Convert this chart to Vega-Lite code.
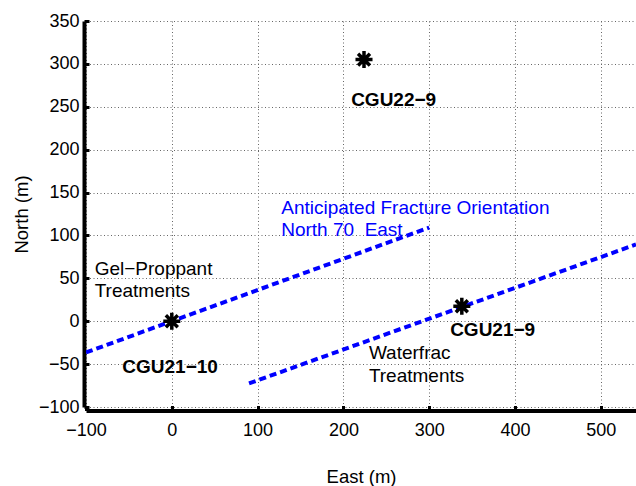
{
  "$schema": "https://vega.github.io/schema/vega-lite/v6.json",
  "width": 550,
  "height": 386,
  "autosize": {"type": "none"},
  "padding": {"left": 86, "top": 21, "right": 0, "bottom": 79},
  "background": "white",
  "config": {
    "view": {"stroke": null},
    "font": "Liberation Sans"
  },
  "datasets": {
    "fractures": [
      {"trend": "gel", "east": -100, "north": -36.4},
      {"trend": "gel", "east": 300, "north": 109.2},
      {"trend": "water", "east": 90, "north": -72.5},
      {"trend": "water", "east": 541, "north": 89.5}
    ],
    "wells": [
      {"well": "CGU21-10", "east": 0, "north": 0},
      {"well": "CGU22-9", "east": 224, "north": 305},
      {"well": "CGU21-9", "east": 338, "north": 17.5}
    ],
    "notes": [
      {"kind": "well", "text": "CGU22−9", "east": 209, "north": 258.4},
      {"kind": "well", "text": "CGU21−10", "east": -57.7, "north": -53.6},
      {"kind": "well", "text": "CGU21−9", "east": 324.4, "north": -10.5},
      {"kind": "zone", "text": "Gel−Proppant", "east": -89.9, "north": 61.1},
      {"kind": "zone", "text": "Treatments", "east": -89.9, "north": 35},
      {"kind": "zone", "text": "Waterfrac", "east": 229.7, "north": -36.8},
      {"kind": "zone", "text": "Treatments", "east": 229.7, "north": -63.3},
      {"kind": "trend", "text": "Anticipated Fracture Orientation", "east": 127.5, "north": 132.5},
      {"kind": "trend", "text": "North 70\u00a0 East", "east": 127.5, "north": 106.9}
    ]
  },
  "encoding": {
    "x": {
      "field": "east",
      "type": "quantitative",
      "scale": {"domain": [-100, 541], "nice": false, "zero": false},
      "axis": {
        "title": "East (m)",
        "values": [-100, 0, 100, 200, 300, 400, 500],
        "grid": true,
        "gridDash": [1, 2.5],
        "gridColor": "#666666",
        "gridWidth": 1,
        "gridOpacity": 1,
        "domainColor": "black",
        "domainWidth": 4,
        "offset": 3.5,
        "tickColor": "black",
        "tickWidth": 3,
        "tickSize": -5,
        "labelPadding": 16,
        "labelFontSize": 18,
        "labelColor": "black",
        "labelFlush": false,
        "labelOverlap": false,
        "titleFontSize": 18.5,
        "titleFontWeight": "normal",
        "titleColor": "black",
        "titleX": 275,
        "titleY": 66,
        "titleAlign": "center",
        "titleBaseline": "middle"
      }
    },
    "y": {
      "field": "north",
      "type": "quantitative",
      "scale": {"domain": [-100, 350], "nice": false, "zero": false},
      "axis": {
        "title": "North (m)",
        "values": [-100, -50, 0, 50, 100, 150, 200, 250, 300, 350],
        "grid": true,
        "gridDash": [1, 2.5],
        "gridColor": "#666666",
        "gridWidth": 1,
        "gridOpacity": 1,
        "domainColor": "black",
        "domainWidth": 4,
        "offset": 2,
        "tickColor": "black",
        "tickWidth": 3,
        "tickSize": -5,
        "labelPadding": 10,
        "labelFontSize": 18,
        "labelColor": "black",
        "labelFlush": false,
        "labelOverlap": false,
        "titleFontSize": 18.5,
        "titleFontWeight": "normal",
        "titleColor": "black",
        "titleAngle": -90,
        "titleX": -63,
        "titleY": 193,
        "titleAlign": "center",
        "titleBaseline": "middle"
      }
    }
  },
  "layer": [
    {
      "data": {"name": "fractures"},
      "mark": {"type": "line", "color": "#0000ff", "strokeWidth": 4, "strokeDash": [7, 4], "clip": true},
      "encoding": {
        "detail": {"field": "trend"},
        "order": {"field": "east", "type": "quantitative"}
      }
    },
    {
      "data": {"name": "wells"},
      "mark": {
        "type": "point",
        "shape": "M-1,0L1,0M0,-1L0,1M-0.7,-0.7L0.7,0.7M-0.7,0.7L0.7,-0.7",
        "filled": false,
        "color": "black",
        "strokeWidth": 3.5,
        "size": 290,
        "opacity": 1
      }
    },
    {
      "data": {"name": "notes"},
      "transform": [{"filter": "datum.kind === 'well'"}],
      "mark": {"type": "text", "align": "left", "baseline": "middle", "fontSize": 19, "fontWeight": "bold", "color": "black"},
      "encoding": {"text": {"field": "text"}}
    },
    {
      "data": {"name": "notes"},
      "transform": [{"filter": "datum.kind === 'zone'"}],
      "mark": {"type": "text", "align": "left", "baseline": "middle", "fontSize": 19, "color": "black"},
      "encoding": {"text": {"field": "text"}}
    },
    {
      "data": {"name": "notes"},
      "transform": [{"filter": "datum.kind === 'trend'"}],
      "mark": {"type": "text", "align": "left", "baseline": "middle", "fontSize": 19, "color": "#0000ff"},
      "encoding": {"text": {"field": "text"}}
    }
  ]
}
